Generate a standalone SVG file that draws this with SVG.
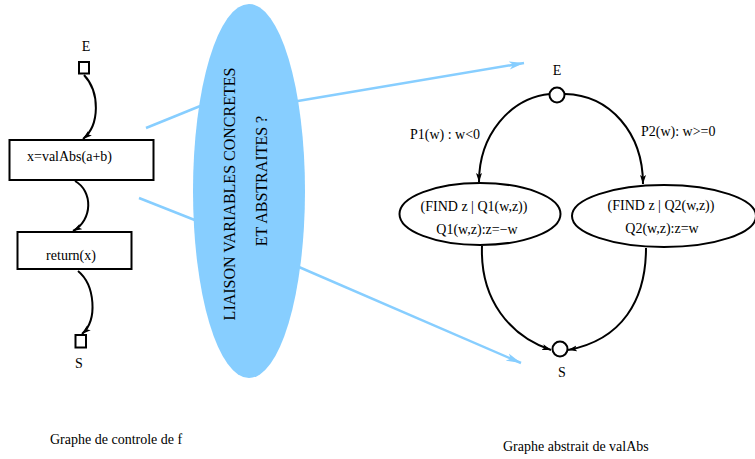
<svg xmlns="http://www.w3.org/2000/svg" width="755" height="459" viewBox="0 0 755 459">
  <style>
    text { font-family: "Liberation Serif", "Times New Roman", serif; font-size: 14px; fill: #000; }
    .big { font-size: 16px; }
    .mid { text-anchor: middle; }
    .box { fill: #fff; stroke: #000; stroke-width: 2; }
    .edge { fill: none; stroke: #000; stroke-width: 2; marker-end: url(#arrK); }
    .link { fill: none; stroke: #87ceff; stroke-width: 2.5; }
    .linkA { fill: none; stroke: #87ceff; stroke-width: 2.5; marker-end: url(#arrB); }
  </style>
  <defs>
    <marker id="arrK" markerWidth="10" markerHeight="8" refX="9" refY="4" orient="auto" markerUnits="userSpaceOnUse">
      <path d="M0,1 L9,4 L0,7 L2,4 Z" fill="#000"/>
    </marker>
    <marker id="arrB" markerWidth="16" markerHeight="10" refX="15" refY="5" orient="auto" markerUnits="userSpaceOnUse">
      <path d="M0,1 L15,5 L0,9 L4,5 Z" fill="#87ceff"/>
    </marker>
  </defs>

  <!-- connectors -->
  <g id="connectors">
    <!-- left control-flow graph -->
    <path class="edge" d="M84,75 C100,92 100,125 83,139"/>
    <path class="edge" d="M75,181 C93,191 93,220 73,231"/>
    <path class="edge" d="M78,271 C95,285 98,320 82,334"/>
    <!-- links through the central ellipse -->
    <path class="link" d="M146,128 L220,98"/>
    <path class="link" d="M139,198 L220,230"/>
    <path class="linkA" d="M280,104 L524,63"/>
    <path class="linkA" d="M285,261 L521,363"/>
    <!-- right abstract graph -->
    <path class="edge" d="M550,94 C510,98 479,135 479,182"/>
    <path class="edge" d="M565,94 C610,95 643,133 643,184"/>
    <path class="edge" d="M482,246 C480,300 510,336 551,350"/>
    <path class="edge" d="M646,248 C646,300 622,340 568,350"/>
  </g>

  <!-- left graph: control flow of f -->
  <g id="left-entry">
    <text x="86" y="51" class="mid">E</text>
    <rect class="box" x="79" y="62" width="10" height="11.5"/>
  </g>
  <g id="left-assign">
    <rect class="box" x="9.5" y="140" width="144" height="40"/>
    <text x="27" y="161">x=valAbs(a+b)</text>
  </g>
  <g id="left-return">
    <rect class="box" x="17.5" y="232" width="114" height="37"/>
    <text x="71" y="260" class="mid">return(x)</text>
  </g>
  <g id="left-exit">
    <rect class="box" x="75.5" y="335" width="10.5" height="12.5"/>
    <text x="79" y="368" class="mid">S</text>
  </g>

  <!-- central link ellipse -->
  <g id="liaison">
    <ellipse cx="249" cy="191" rx="56" ry="187" fill="#87ceff"/>
    <text class="big mid" transform="translate(235,194) rotate(-90)">LIAISON VARIABLES CONCRETES</text>
    <text class="big mid" transform="translate(267,181) rotate(-90)">ET ABSTRAITES ?</text>
  </g>

  <!-- right graph: abstract graph of valAbs -->
  <g id="right-entry">
    <text x="557" y="75" class="mid">E</text>
    <circle cx="557" cy="95" r="7.5" fill="#fff" stroke="#000" stroke-width="2"/>
  </g>
  <g id="cond-labels">
    <text x="410" y="139">P1(w) : w&lt;0</text>
    <text x="641" y="136">P2(w): w&gt;=0</text>
  </g>
  <g id="find-neg">
    <ellipse class="box" cx="480" cy="214" rx="80.5" ry="31"/>
    <text x="474" y="211" class="mid">(FIND z | Q1(w,z))</text>
    <text x="477" y="234" class="mid">Q1(w,z):z=−w</text>
  </g>
  <g id="find-pos">
    <ellipse class="box" cx="664" cy="216" rx="92" ry="31"/>
    <text x="661" y="210" class="mid">(FIND z | Q2(w,z))</text>
    <text x="662" y="233" class="mid">Q2(w,z):z=w</text>
  </g>
  <g id="right-exit">
    <circle cx="560" cy="349" r="7.5" fill="#fff" stroke="#000" stroke-width="2"/>
    <text x="562" y="377" class="mid">S</text>
  </g>

  <!-- captions -->
  <g id="captions">
    <text x="50" y="444">Graphe de controle de f</text>
    <text x="503" y="451">Graphe abstrait de valAbs</text>
  </g>
</svg>
